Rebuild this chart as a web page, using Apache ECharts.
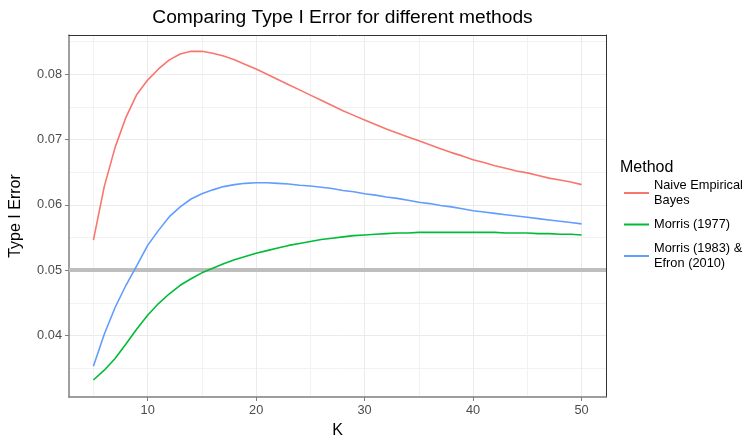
<!DOCTYPE html>
<html>
<head>
<meta charset="utf-8">
<script src="https://cdn.jsdelivr.net/npm/echarts@6/dist/echarts.min.js"></script>
<style>
html,body{margin:0;padding:0;background:#fff;}
#main{width:756px;height:439px;}
</style>
</head>
<body>
<div id="main"></div>
<script>
//横轴 K
var kValues = [5,6,7,8,9,10,11,12,13,14,15,16,17,18,19,20,21,22,23,24,25,26,27,28,29,30,
	31,32,33,34,35,36,37,38,39,40,41,42,43,44,45,46,47,48,49,50];
//三种方法的 Type I Error
var naiveEB = [0.0546,0.0628,0.0688,0.0734,0.0769,0.0791,0.0808,0.0822,0.0831,0.0835,0.0835,0.0832,
	0.0828,0.0822,0.0815,0.0808,0.0800,0.0792,0.0784,0.0776,0.0768,0.0760,0.0752,0.0744,0.0737,0.0730,
	0.0723,0.0716,0.0710,0.0704,0.0698,0.0692,0.0686,0.0680,0.0675,0.0669,
	0.0665,0.0660,0.0656,0.0652,0.0649,0.0645,0.0641,0.0638,0.0635,0.0631];
var morris1977 = [0.0332,0.0347,0.0365,0.0387,0.0410,0.0431,0.0449,0.0464,0.0477,0.0487,0.0496,0.0503,
	0.0510,0.0516,0.0521,0.0526,0.0530,0.0534,0.0538,0.0541,0.0544,0.0547,0.0549,0.0551,0.0553,0.0554,
	0.0555,0.0556,0.0557,0.0557,0.0558,0.0558,0.0558,0.0558,0.0558,0.0558,
	0.0558,0.0558,0.0557,0.0557,0.0557,0.0556,0.0556,0.0555,0.0555,0.0554];
var morris1983 = [0.0353,0.0402,0.0443,0.0477,0.0507,0.0538,0.0561,0.0582,0.0597,0.0609,0.0617,0.0623,
	0.0628,0.0631,0.0633,0.0634,0.0634,0.0633,0.0632,0.0630,0.0629,0.0627,0.0625,0.0622,0.0620,0.0617,
	0.0615,0.0612,0.0610,0.0607,0.0604,0.0602,0.0599,0.0597,0.0594,0.0591,
	0.0589,0.0587,0.0585,0.0583,0.0581,0.0579,0.0577,0.0575,0.0573,0.0571];
var methodNames = ['Naive Empirical\nBayes', 'Morris (1977)', 'Morris (1983) &\nEfron (2010)'];
var methodColors = ['#F8766D', '#00BA38', '#619CFF'];
var xTicks = [10, 20, 30, 40, 50];
var yTicks = [0.04, 0.05, 0.06, 0.07, 0.08];
var alphaLevel = 0.05;

var font = 'Liberation Sans, Arial, Helvetica, sans-serif';

function toPairs(ary){
	var out = [];
	for(var i=0; i<kValues.length; i++){
		out.push([kValues[i], ary[i]]);
	}
	return out;
}

var seriesData = [naiveEB, morris1977, morris1983];
var series = [];
for(var i=0; i<methodNames.length; i++){
	var s = {
		name: methodNames[i],
		type: 'line',
		data: toPairs(seriesData[i]),
		symbol: 'none',
		smooth: false,
		z: 3,
		lineStyle: {color: methodColors[i], width: 1.6},
		itemStyle: {color: methodColors[i]}
	};
	if(i === 0){
		//0.05 参考线
		s.markLine = {
			silent: true,
			z: 1,
			symbol: ['none', 'none'],
			label: {show: false},
			lineStyle: {color: '#bebebe', width: 4, type: 'solid'},
			data: [{yAxis: alphaLevel}]
		};
	}
	series.push(s);
}

//上、右边框用的空轴
function borderAxis(pos, min, max){
	return {
		type: 'value', position: pos, min: min, max: max,
		axisLine: {show: true, onZero: false, lineStyle: {color: '#333', width: 1}},
		axisTick: {show: false}, axisLabel: {show: false}, splitLine: {show: false}
	};
}

var myChart = echarts.init(document.getElementById('main'));
var option = {
	backgroundColor: '#fff',
	animation: false,
	textStyle: {fontFamily: font},
	title: [
		{
			text: 'Comparing Type I Error for different methods',
			left: 337.5,
			textAlign: 'center',
			top: 3,
			textStyle: {fontSize: 19.2, fontWeight: 'normal', color: '#000', fontFamily: font}
		},
		{
			text: 'Method',
			left: 620,
			top: 160,
			padding: 0,
			textStyle: {fontSize: 16, fontWeight: 'normal', color: '#000', fontFamily: font}
		}
	],
	legend: {
		orient: 'vertical',
		left: 624,
		top: 178,
		padding: 0,
		itemGap: 9,
		itemWidth: 25,
		itemHeight: 2,
		icon: 'rect',
		textStyle: {fontSize: 12.8, color: '#000', lineHeight: 15, fontFamily: font},
		data: methodNames
	},
	grid: {
		left: 69,
		right: 150,
		top: 35,
		bottom: 42,
		show: false,
		containLabel: false,
		outerBoundsMode: 'none'
	},
	xAxis: [{
		type: 'value',
		min: 2.75,
		max: 52.25,
		name: 'K',
		nameLocation: 'middle',
		nameGap: 26,
		nameTextStyle: {fontSize: 16, color: '#000', fontFamily: font},
		axisLine: {show: true, onZero: false, lineStyle: {color: '#7f7f7f', width: 1.5}},
		axisTick: {show: true, length: 4, customValues: xTicks, lineStyle: {color: '#7f7f7f'}},
		axisLabel: {
			customValues: xTicks,
			color: '#4d4d4d', fontSize: 12.8, margin: 7, fontFamily: font
		},
		splitLine: {show: true, lineStyle: {color: '#ebebeb', width: 1}},
		minorTick: {show: false, splitNumber: 2},
		minorSplitLine: {show: true, lineStyle: {color: '#f2f2f2', width: 1}}
	}, borderAxis('top', 2.75, 52.25)],
	yAxis: [{
		type: 'value',
		min: 0.0306,
		max: 0.0860,
		name: 'Type I Error',
		nameLocation: 'middle',
		nameGap: 45,
		nameTextStyle: {fontSize: 16, color: '#000', fontFamily: font},
		axisLine: {show: true, onZero: false, lineStyle: {color: '#7f7f7f', width: 1.5}},
		axisTick: {show: true, length: 4, customValues: yTicks, lineStyle: {color: '#7f7f7f'}},
		axisLabel: {
			customValues: yTicks,
			color: '#4d4d4d', fontSize: 12.8, margin: 7, fontFamily: font,
			formatter: function(v){ return v.toFixed(2); }
		},
		splitLine: {show: true, lineStyle: {color: '#ebebeb', width: 1}},
		minorTick: {show: false, splitNumber: 2},
		minorSplitLine: {show: true, lineStyle: {color: '#f2f2f2', width: 1}}
	}, borderAxis('right', 0.0306, 0.0860)],
	series: series
};
myChart.setOption(option);
</script>
</body>
</html>
